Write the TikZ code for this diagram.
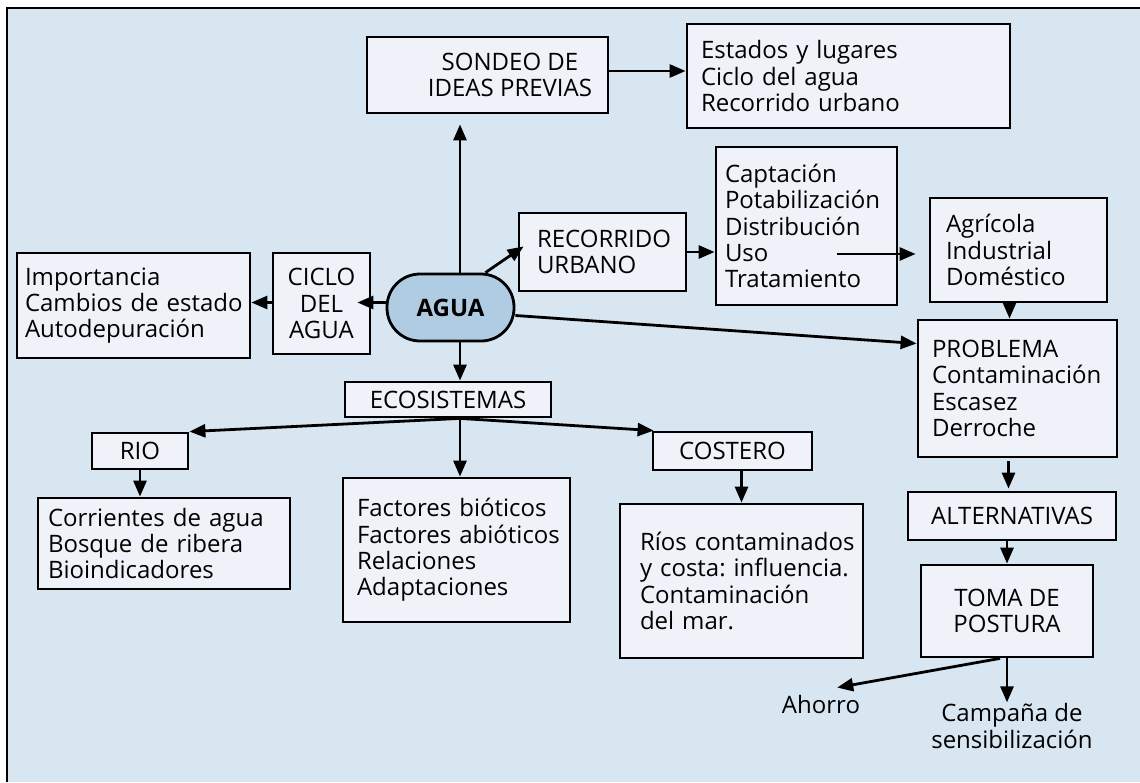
\documentclass[tikz,border=0pt]{standalone}
\usepackage{fontspec}
\setmainfont{Open Sans}
\usetikzlibrary{arrows.meta}
\definecolor{bgblue}{RGB}{216,230,241}
\definecolor{boxfill}{RGB}{239,243,249}
\definecolor{aguafill}{RGB}{176,204,227}
\hyphenpenalty=10000
\exhyphenpenalty=10000
\newcommand\mapfont{\fontsize{24}{26.4}\selectfont}
\tikzset{
  box/.style={draw, fill=boxfill, line width=2.8pt, inner sep=0pt, font=\mapfont},
  lbox/.style={box, align=left},
  cbox/.style={box, align=center},
  arr/.style={-{Triangle[length=16pt,width=13pt]}, line width=2.8pt},
}
\begin{document}
\begin{tikzpicture}[x=1pt,y=-1pt]
  \useasboundingbox (0,0) rectangle (1140,782);
  \fill[white] (0,0) rectangle (1140,782);
  \fill[bgblue] (7,8) rectangle (1140,782);
  \draw[line width=2.8pt] (7,782) -- (7,8) -- (1140,8);

  % centre
  \node[draw, fill=aguafill, line width=2.8pt, rounded corners=33pt,
        minimum width=127pt, minimum height=67pt, font=\mapfont\bfseries]
        (agua) at (450.5,307.5) {AGUA};

  % upper branch
  \node[cbox, minimum width=241pt, minimum height=76pt] (sondeo) at (487.5,75)
    {\hspace*{45pt}SONDEO DE\\\hspace*{45pt}IDEAS PREVIAS};
  \node[lbox, minimum width=323pt, minimum height=104pt, text width=295pt] (estados) at (848.5,76)
    {Estados~y~lugares\\Ciclo~del~agua\\Recorrido~urbano};
  \node[lbox, minimum width=167pt, minimum height=78pt, text width=131pt] (recorrido) at (602.5,252)
    {RECORRIDO\\URBANO};
  \node[lbox, minimum width=181pt, minimum height=158pt, text width=163pt] (captacion) at (806.5,226)
    {Captación\\Potabilización\\Distribución\\Uso\\Tratamiento};
  \node[lbox, minimum width=177pt, minimum height=104pt, text width=145pt] (agricola) at (1018.5,250)
    {Agrícola\\Industrial\\Doméstico};

  % left branch
  \node[cbox, minimum width=97pt, minimum height=101pt] (ciclo) at (321.5,303.5)
    {CICLO\\DEL\\AGUA};
  \node[lbox, minimum width=233pt, minimum height=105pt, text width=217pt] (importancia) at (133.5,305.5)
    {Importancia\\Cambios~de~estado\\Autodepuración};

  % ecosystems
  \node[cbox, minimum width=206pt, minimum height=35pt] (ecosistemas) at (448,399.5) {ECOSISTEMAS};
  \node[cbox, minimum width=96pt, minimum height=36pt] (rio) at (140,451) {RIO};
  \node[lbox, minimum width=252pt, minimum height=91pt, text width=232pt] (corrientes) at (164,543.5)
    {Corrientes~de~agua\\Bosque~de~ribera\\Bioindicadores};
  \node[lbox, minimum width=227pt, minimum height=144pt, text width=199pt] (factores) at (456.5,550)
    {Factores~bióticos\\Factores~abióticos\\Relaciones\\Adaptaciones};
  \node[cbox, minimum width=159pt, minimum height=38pt] (costero) at (732.5,451) {COSTERO};
  \node[lbox, minimum width=243pt, minimum height=154pt, text width=203pt] (rios) at (741.5,581)
    {Ríos~contaminados\\y~costa:~influencia.\\Contaminación\\del~mar.};

  % problem branch
  \node[lbox, minimum width=199pt, minimum height=137pt, text width=171pt] (problema) at (1017.5,388.5)
    {PROBLEMA\\Contaminación\\Escasez\\Derroche};
  \node[cbox, minimum width=208pt, minimum height=48pt] (alternativas) at (1012,516) {ALTERNATIVAS};
  \node[cbox, minimum width=172pt, minimum height=92pt] (toma) at (1007,611) {TOMA DE\\POSTURA};
  \node[font=\mapfont, align=center, inner sep=1pt] (campana) at (1012,726) {Campaña de\\sensibilización};
  \node[font=\mapfont, inner sep=1pt] (ahorro) at (821,704) {Ahorro};

  % connectors
  \coordinate (axis) at (460,0);
  \coordinate (uso) at (837,254);
  \coordinate (eco) at (ecosistemas.south -| axis);
  \draw[arr, shorten >=10pt] (agua.north -| axis) -- (sondeo.south -| axis);
  \draw[arr] ([yshift=4pt]sondeo.east) -- ([yshift=4pt]sondeo.east -| estados.west);
  \draw[arr] (agua.45) -- ([xshift=6pt,yshift=46pt]recorrido.south west);
  \draw[arr] (recorrido.east) -- (recorrido.east -| captacion.west);
  \draw[arr, shorten >=13pt] (uso) -- (uso -| agricola.west);
  \draw[arr] ([xshift=-9pt]agricola.south) -- ([xshift=-9pt]agricola.south |- problema.north);
  \draw[arr] ([yshift=-8pt]agua.east) -- ([yshift=45pt]problema.west);
  \draw[arr, shorten <=3pt, shorten >=2pt] ([xshift=-9pt]problema.south) -- ([xshift=-9pt]problema.south |- alternativas.north);
  \draw[arr] (toma.north |- alternativas.south) -- (toma.north);
  \draw[arr] (toma.south) -- (toma.south |- campana.north);
  \draw[arr] ([xshift=-7pt]toma.south) -- ([xshift=-24pt,yshift=6pt]ahorro.north east);
  \draw[arr, shorten >=-14pt] ([yshift=5pt]agua.west) -- ([yshift=5pt]agua.west -| ciclo.east);
  \draw[arr] ([yshift=5pt]agua.west -| ciclo.west) -- ([yshift=5pt]agua.west -| importancia.east);
  \draw[arr] (agua.south -| axis) -- (ecosistemas.north -| axis);
  \draw[arr] (eco) -- (rio.north east);
  \draw[arr] (eco) -- (eco |- factores.north);
  \draw[arr] (eco) -- ([xshift=2pt]costero.north west);
  \draw[arr] (rio.south) -- (rio.south |- corrientes.north);
  \draw[arr] (rios.north |- costero.south) -- (rios.north);
\end{tikzpicture}
\end{document}
